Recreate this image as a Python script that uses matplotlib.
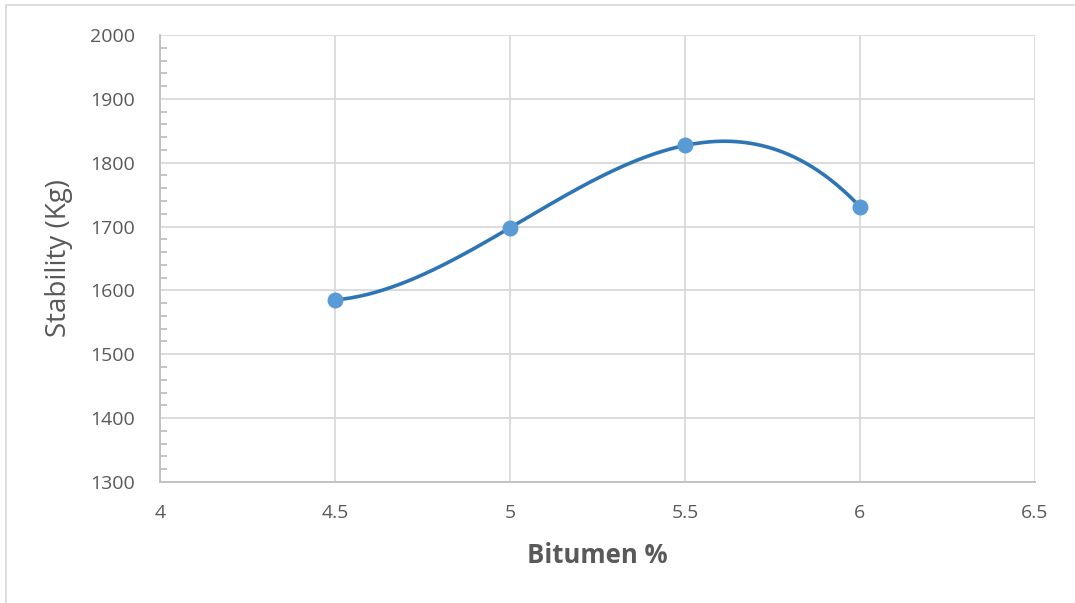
import numpy as np
import matplotlib
matplotlib.use('Agg')
import matplotlib.pyplot as plt
from matplotlib.patches import Rectangle
from matplotlib.ticker import MultipleLocator

plt.rcParams['font.family'] = ['Open Sans', 'DejaVu Sans']

# Marshall test results
bitumen = [4.5, 5.0, 5.5, 6.0]
stability = [1585, 1698, 1827, 1731]

# 3rd order polynomial trend line over the tested range
coef = np.polyfit(bitumen, stability, 3)
xt = np.linspace(min(bitumen), max(bitumen), 200)
yt = np.polyval(coef, xt)

fig = plt.figure(figsize=(10.75, 6.03), dpi=100)
ax = fig.add_axes([0.1488, 0.2007, 0.814, 0.7413])

ax.plot(xt, yt, color='#2e75b6', lw=2.6, zorder=3)
ax.scatter(bitumen, stability, s=110, color='#5b9bd5', zorder=4)

ax.set_xlim(4, 6.5)
ax.set_ylim(1300, 2000)
ax.yaxis.set_major_locator(MultipleLocator(100))
ax.yaxis.set_minor_locator(MultipleLocator(20))
ax.set_xticks([4, 4.5, 5, 5.5, 6, 6.5])
ax.set_xticklabels(['4', '4.5', '5', '5.5', '6', '6.5'])

ax.grid(True, which='major', color='#d9d9d9', lw=1.3)
ax.set_axisbelow(True)
for side in ['top', 'right']:
    ax.spines[side].set_visible(False)
for side in ['left', 'bottom']:
    ax.spines[side].set_color('#bfbfbf')
    ax.spines[side].set_linewidth(1.3)

ax.tick_params(axis='both', which='major', length=0, labelsize=14, labelcolor='#595959')
ax.tick_params(axis='y', which='minor', direction='in', length=5, color='#bfbfbf', width=1.3)
ax.tick_params(axis='y', pad=18)
ax.tick_params(axis='x', pad=16)

ax.set_ylabel('Stability (Kg)', fontsize=20, color='#595959', labelpad=12)
ax.set_xlabel('Bitumen %', fontsize=18.5, fontweight='bold', color='#595959', labelpad=14)

# chart area frame
fig.patches.append(Rectangle((6 / 1075, -0.01), 1.1, 1 - 5 / 603 + 0.01, transform=fig.transFigure,
                             fill=False, edgecolor='#d9d9d9', lw=1.3))

fig.savefig('out.png', dpi=100)
